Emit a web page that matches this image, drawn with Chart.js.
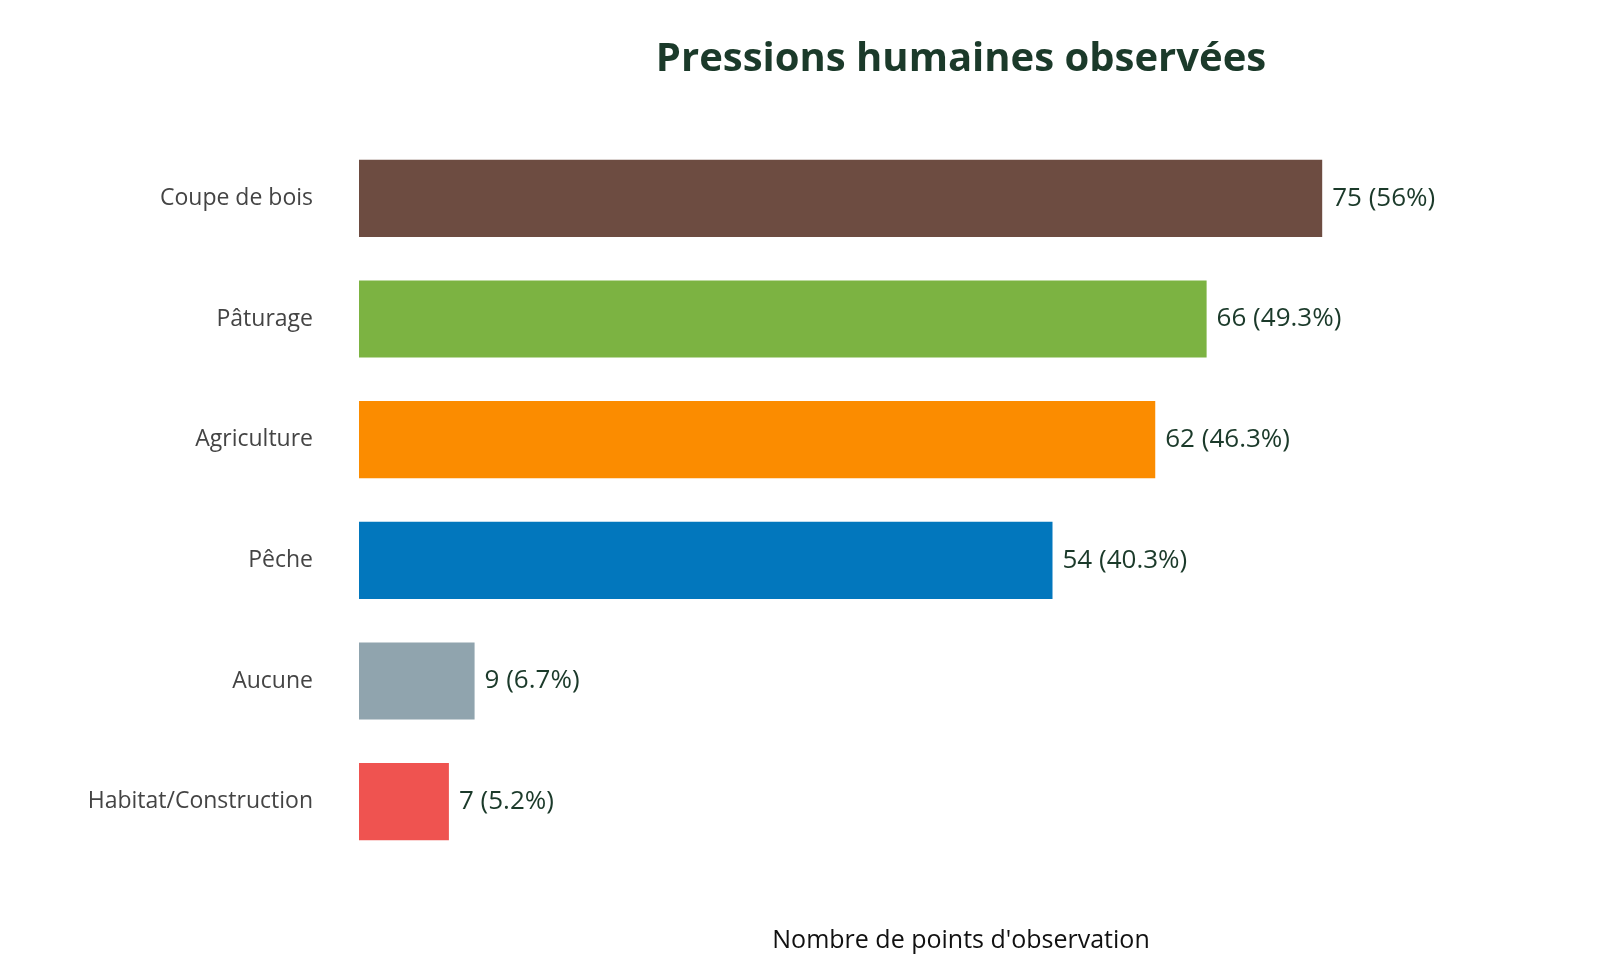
<!DOCTYPE html>
<html>
<head>
<meta charset="utf-8">
<script src="https://cdn.jsdelivr.net/npm/chart.js@4"></script>
<style>
  body { margin: 0; background: #fff; }
  #wrap { width: 1600px; height: 960px; }
</style>
</head>
<body>
<div id="wrap"><canvas id="chart"></canvas></div>
<script>
// Data
const categories = ["Coupe de bois", "Pâturage", "Agriculture", "Pêche", "Aucune", "Habitat/Construction"];
const counts = [75, 66, 62, 54, 9, 7];
const percents = ["56%", "49.3%", "46.3%", "40.3%", "6.7%", "5.2%"];
const barColors = ["#6d4c41", "#7cb342", "#fb8c00", "#0277bd", "#90a4ae", "#ef5350"];

const FONT = "'Open Sans', Lato, sans-serif";
const DARK = "#1b3a2a";

// value labels at bar ends + title over the plot area
const labelPlugin = {
  id: "labels",
  afterDatasetsDraw(chart) {
    const ctx = chart.ctx;
    const meta = chart.getDatasetMeta(0);
    ctx.save();
    ctx.fillStyle = DARK;
    ctx.font = "26px " + FONT;
    ctx.textBaseline = "middle";
    ctx.textAlign = "left";
    meta.data.forEach((bar, i) => {
      ctx.fillText(`${counts[i]} (${percents[i]})`, bar.x + 10, bar.y);
    });
    const area = chart.chartArea;
    ctx.font = "bold 40px " + FONT;
    ctx.textAlign = "center";
    ctx.fillText("Pressions humaines observées", (area.left + area.right) / 2, 60);
    ctx.restore();
  }
};

new Chart(document.getElementById("chart"), {
  type: "bar",
  data: {
    labels: categories,
    datasets: [{
      data: counts,
      backgroundColor: barColors,
      barPercentage: 0.8,
      categoryPercentage: 0.8
    }]
  },
  options: {
    indexAxis: "y",
    responsive: true,
    maintainAspectRatio: false,
    animation: false,
    layout: { padding: { top: 138, right: 37, left: 0, bottom: 0 } },
    plugins: { legend: { display: false }, tooltip: { enabled: false } },
    scales: {
      x: {
        min: 0,
        max: 93.75,
        grid: { display: false },
        border: { display: false },
        ticks: { display: false },
        title: {
          display: true,
          text: "Nombre de points d'observation",
          color: "#111",
          font: { family: FONT, size: 25 },
          padding: { top: 28 }
        },
        afterFit(scale) { scale.height = 98; }
      },
      y: {
        grid: { display: false },
        border: { display: false },
        ticks: { color: "#444", font: { family: FONT, size: 23 }, padding: 38 },
        afterFit(scale) { scale.width = 359; }
      }
    }
  },
  plugins: [labelPlugin]
});
</script>
</body>
</html>
